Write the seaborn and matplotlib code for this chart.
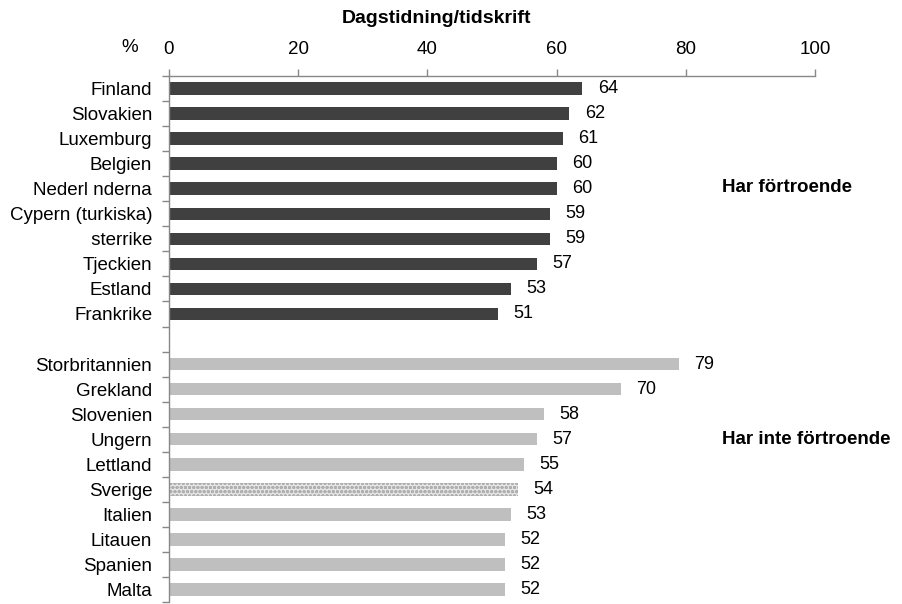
import matplotlib
matplotlib.use("Agg")
import matplotlib.pyplot as plt
import seaborn as sns
import pandas as pd

# data
har_fortroende = ["Finland", "Slovakien", "Luxemburg", "Belgien", "Nederl nderna",
                  "Cypern (turkiska)", " sterrike", "Tjeckien", "Estland", "Frankrike"]
har_fortroende_val = [64, 62, 61, 60, 60, 59, 59, 57, 53, 51]

har_inte = ["Storbritannien", "Grekland", "Slovenien", "Ungern", "Lettland",
            "Sverige", "Italien", "Litauen", "Spanien", "Malta"]
har_inte_val = [79, 70, 58, 57, 55, 54, 53, 52, 52, 52]

df = pd.DataFrame({
    "land": har_fortroende + har_inte,
    "procent": har_fortroende_val + har_inte_val,
    "grupp": ["Har förtroende"] * 10 + ["Har inte förtroende"] * 10,
})
order = har_fortroende + [""] + har_inte

sns.set_style("white")
plt.rcParams["font.family"] = ["Liberation Sans", "DejaVu Sans"]
plt.rcParams["text.color"] = "black"

fig = plt.figure(figsize=(9.03, 6.04), dpi=100)
ax = fig.add_axes([0.187, 0.0033, 0.7155, 0.8708])

sns.barplot(data=df, x="procent", y="land", hue="grupp", order=order,
            palette={"Har förtroende": "#404040", "Har inte förtroende": "#bfbfbf"},
            width=0.5, dodge=False, legend=False, ax=ax, linewidth=0)

# Sverige gets a dotted pattern
sv = order.index("Sverige")
for p in ax.patches:
    if abs(p.get_y() + p.get_height() / 2 - sv) < 0.1:
        p.set_facecolor("#e6e6e6")
        p.set_hatch("oooo")
        p.set_edgecolor("#b0b0b0")
        p.set_linewidth(0)

for c in ax.containers:
    ax.bar_label(c, padding=11, fontsize=13, color="black")

ax.set_xlim(0, 100)
ax.set_ylim(20.5, -0.5)
ax.xaxis.tick_top()
ax.set_xticks([0, 20, 40, 60, 80, 100])
ax.tick_params(axis="x", labelsize=13.5, length=5, width=1, color="#888888",
               labelcolor="black", pad=8, top=True)
ax.set_yticks(range(21))
ax.set_yticklabels(order)
ax.set_yticks([i - 0.5 for i in range(22)], minor=True)
ax.tick_params(axis="y", which="major", length=0, labelsize=13.5, pad=12, labelcolor="black")
ax.tick_params(axis="y", which="minor", length=5, width=1, color="#888888", left=True)
ax.set_xlabel("")
ax.set_ylabel("")

for s in ["right", "bottom"]:
    ax.spines[s].set_visible(False)
for s in ["top", "left"]:
    ax.spines[s].set_color("#888888")
    ax.spines[s].set_linewidth(1)

fig.text(0.483, 0.970, "Dagstidning/tidskrift", ha="center", va="center",
         fontsize=14, fontweight="bold")
fig.text(0.144, 0.921, "%", ha="center", va="center", fontsize=13.5)
fig.text(0.80, 0.689, "Har förtroende", ha="left", va="center",
         fontsize=13.5, fontweight="bold")
fig.text(0.80, 0.273, "Har inte förtroende", ha="left", va="center",
         fontsize=13.5, fontweight="bold")

fig.savefig("out.png", dpi=100)
